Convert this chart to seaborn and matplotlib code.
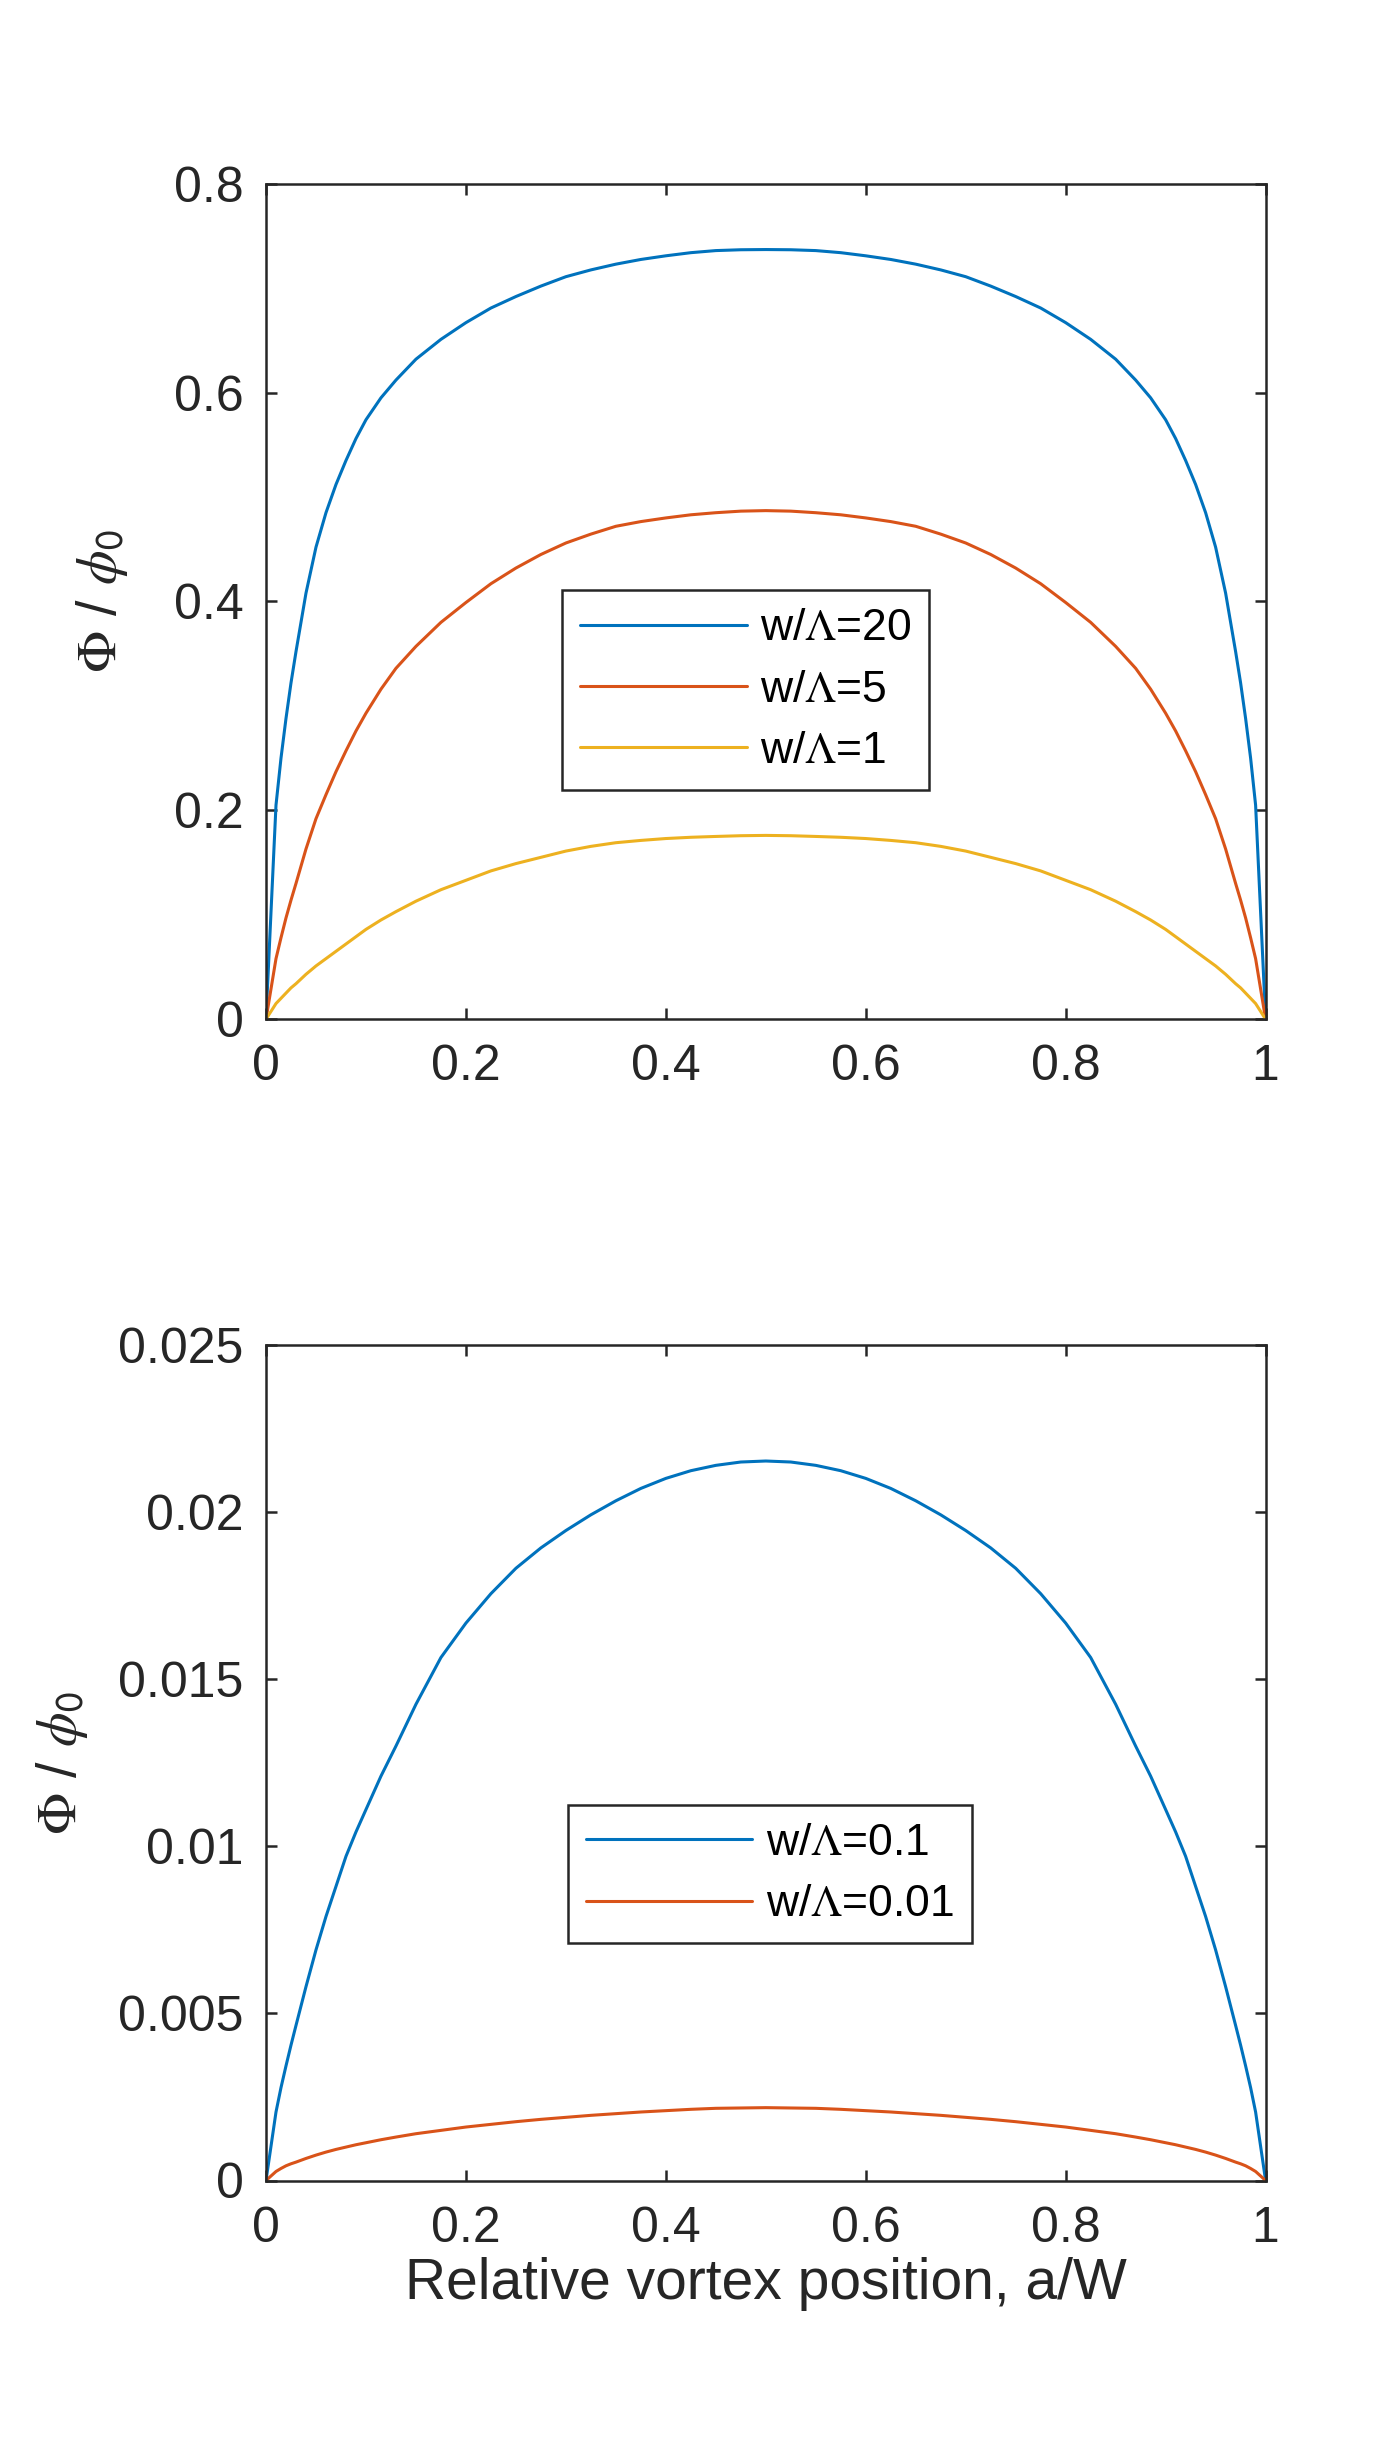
import numpy as np
import pandas as pd
import matplotlib
matplotlib.use("Agg")
import matplotlib.pyplot as plt
from matplotlib.ticker import FuncFormatter
import seaborn as sns

# values (curves are mirror images about a/W = 0.5)
pos = [0, 0.01, 0.015, 0.02, 0.025, 0.03, 0.04, 0.05, 0.06, 0.07, 0.08, 0.09, 0.1, 0.115, 0.13, 0.15, 0.175,
       0.2, 0.225, 0.25, 0.275, 0.3, 0.325, 0.35, 0.375, 0.4, 0.425, 0.45, 0.475,
       0.5,
       0.525, 0.55, 0.575, 0.6, 0.625, 0.65, 0.675, 0.7, 0.725, 0.75, 0.775, 0.8, 0.825, 0.85, 0.87, 0.885,
       0.9, 0.91, 0.92, 0.93, 0.94, 0.95, 0.96, 0.97, 0.975, 0.98, 0.985, 0.99, 1.0]

flux_20 = [0, 0.205, 0.25, 0.288, 0.322, 0.352, 0.408, 0.452, 0.485, 0.512, 0.535, 0.556, 0.574, 0.595, 0.612, 0.632,
           0.651, 0.667, 0.681, 0.692, 0.702, 0.711, 0.7175, 0.723, 0.7275, 0.731, 0.734, 0.736, 0.7368,
           0.737,
           0.7368, 0.736, 0.734, 0.731, 0.7275, 0.723, 0.7175, 0.711, 0.702, 0.692, 0.681, 0.667, 0.651, 0.632,
           0.612, 0.595, 0.574, 0.556, 0.535, 0.512, 0.485, 0.452, 0.408, 0.352, 0.322, 0.288, 0.25, 0.205, 0]
flux_5 = [0, 0.058, 0.078, 0.097, 0.114, 0.13, 0.163, 0.192, 0.215, 0.237, 0.257, 0.276, 0.293, 0.316, 0.336, 0.357,
          0.380, 0.399, 0.417, 0.432, 0.445, 0.456, 0.4645, 0.472, 0.4765, 0.480, 0.483, 0.485, 0.4865,
          0.487,
          0.4865, 0.485, 0.483, 0.480, 0.4765, 0.472, 0.4645, 0.456, 0.445, 0.432, 0.417, 0.399, 0.380, 0.357,
          0.336, 0.316, 0.293, 0.276, 0.257, 0.237, 0.215, 0.192, 0.163, 0.13, 0.114, 0.097, 0.078, 0.058, 0]
flux_1 = [0, 0.015, 0.020, 0.025, 0.030, 0.034, 0.043, 0.051, 0.058, 0.065, 0.072, 0.079, 0.086, 0.095, 0.103, 0.113,
          0.124, 0.133, 0.142, 0.149, 0.155, 0.161, 0.1655, 0.169, 0.1712, 0.173, 0.1742, 0.175, 0.1757,
          0.176,
          0.1757, 0.175, 0.1742, 0.173, 0.1712, 0.169, 0.1655, 0.161, 0.155, 0.149, 0.142, 0.133, 0.124, 0.113,
          0.103, 0.095, 0.086, 0.079, 0.072, 0.065, 0.058, 0.051, 0.043, 0.034, 0.030, 0.025, 0.020, 0.015, 0]

flux_01 = [0, 0.00205, 0.00278, 0.00343, 0.00405, 0.00464, 0.0058, 0.0069, 0.0079, 0.0088, 0.0097, 0.01043, 0.0111,
           0.0121, 0.0130, 0.01425, 0.01565, 0.01668, 0.01756, 0.01832, 0.01893, 0.01945, 0.01992, 0.02034, 0.02071,
           0.02101, 0.02124, 0.0214, 0.0215,
           0.02153,
           0.0215, 0.0214, 0.02124, 0.02101, 0.02071, 0.02034, 0.01992, 0.01945, 0.01893, 0.01832, 0.01756, 0.01668,
           0.01565, 0.01425, 0.0130, 0.0121, 0.0111, 0.01043, 0.0097, 0.0088, 0.0079, 0.0069, 0.0058, 0.00464,
           0.00405, 0.00343, 0.00278, 0.00205, 0]
flux_001 = [0, 0.00027, 0.00036, 0.00044, 0.0005, 0.00055, 0.00066, 0.00076, 0.00085, 0.00093, 0.001, 0.00107, 0.00113,
            0.00122, 0.0013, 0.0014, 0.0015, 0.0016, 0.00168, 0.00176, 0.00183, 0.00189, 0.00195, 0.002, 0.00205,
            0.00209, 0.00213, 0.00216, 0.00217,
            0.00218,
            0.00217, 0.00216, 0.00213, 0.00209, 0.00205, 0.002, 0.00195, 0.00189, 0.00183, 0.00176, 0.00168, 0.0016,
            0.0015, 0.0014, 0.0013, 0.00122, 0.00113, 0.00107, 0.001, 0.00093, 0.00085, 0.00076, 0.00066, 0.00055,
            0.0005, 0.00044, 0.00036, 0.00027, 0]

top_labels = [r"w/$\Lambda$=20", r"w/$\Lambda$=5", r"w/$\Lambda$=1"]
bottom_labels = [r"w/$\Lambda$=0.1", r"w/$\Lambda$=0.01"]
x_ticks = [0, 0.2, 0.4, 0.6, 0.8, 1]
top_yticks = [0, 0.2, 0.4, 0.6, 0.8]
bottom_yticks = [0, 0.005, 0.01, 0.015, 0.02, 0.025]

colors = ["#0072BD", "#D95319", "#EDB120"]

sns.set_theme(style="white")
plt.rcParams["font.family"] = ["Liberation Sans", "DejaVu Sans"]
plt.rcParams["mathtext.fontset"] = "stix"
ink = "#262626"

top_df = pd.DataFrame({"pos": pos * 3, "flux": flux_20 + flux_5 + flux_1,
                       "case": np.repeat(top_labels, len(pos))})
bottom_df = pd.DataFrame({"pos": pos * 2, "flux": flux_01 + flux_001,
                          "case": np.repeat(bottom_labels, len(pos))})

fig = plt.figure(figsize=(7, 12.25), dpi=200)
ax1 = fig.add_axes([0.19, 0.584, 0.714, 0.341])
ax2 = fig.add_axes([0.19, 0.110, 0.714, 0.341])

sns.lineplot(data=top_df, x="pos", y="flux", hue="case", hue_order=top_labels,
             palette=colors[:3], linewidth=1.1, ax=ax1, sort=False)
sns.lineplot(data=bottom_df, x="pos", y="flux", hue="case", hue_order=bottom_labels,
             palette=colors[:2], linewidth=1.1, ax=ax2, sort=False)

fmt = FuncFormatter(lambda v, p: "%g" % v)
for ax, yt, lp in [(ax1, top_yticks, 16), (ax2, bottom_yticks, 10)]:
    ax.set_xlim(0, 1)
    ax.set_ylim(yt[0], yt[-1])
    ax.set_xticks(x_ticks)
    ax.set_yticks(yt)
    ax.xaxis.set_major_formatter(fmt)
    ax.yaxis.set_major_formatter(fmt)
    ax.tick_params(direction="in", length=4, width=0.9, colors=ink, labelsize=18,
                   top=True, right=True, left=True, bottom=True)
    ax.tick_params(axis="x", pad=9)
    ax.tick_params(axis="y", pad=8)
    for s in ax.spines.values():
        s.set_visible(True)
        s.set_color(ink)
        s.set_linewidth(0.9)
    ax.set_ylabel(r"$\Phi$ / $\phi_{\mathsf{0}}$", fontsize=20, color=ink, labelpad=lp)
    ax.set_xlabel("")

ax2.set_xlabel("Relative vortex position, a/W", fontsize=20.5, color=ink, labelpad=2)

for ax, c in [(ax1, (0.48, 0.394)), (ax2, (0.504, 0.367))]:
    leg = ax.legend(loc="center", bbox_to_anchor=c, fontsize=16, frameon=True, fancybox=False,
                    handlelength=3.75, handletextpad=0.3, borderpad=0.4, labelspacing=0.46,
                    framealpha=1)
    leg.get_frame().set_edgecolor(ink)
    leg.get_frame().set_linewidth(0.9)
    for t in leg.get_texts():
        t.set_color("black")

fig.savefig("out.png", dpi=200)
